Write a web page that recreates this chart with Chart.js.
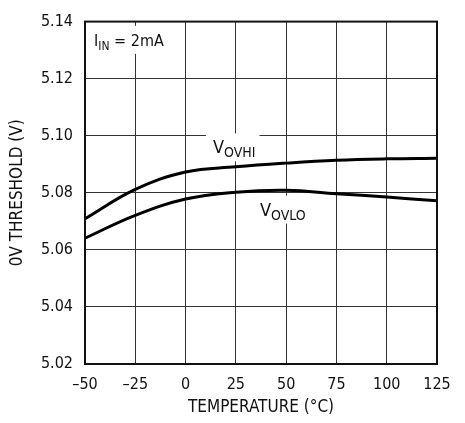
<!DOCTYPE html>
<html>
<head>
<meta charset="utf-8">
<script src="https://cdn.jsdelivr.net/npm/chart.js@4.4.1/dist/chart.umd.min.js"></script>
<style>
  html, body { margin: 0; padding: 0; background: #fff; }
  #wrap { width: 465px; height: 423px; }
</style>
</head>
<body>
<div id="wrap"><canvas id="Chart-threshold" width="465" height="423"></canvas></div>
<script>
var temperatures = [-50, -25, 0, 25, 50, 75, 100, 125];
var vOvHi = [5.0709, 5.0812, 5.0873, 5.0891, 5.0904, 5.0914, 5.0919, 5.0921];
var vOvLo = [5.0641, 5.0721, 5.0778, 5.0802, 5.0809, 5.0797, 5.0785, 5.0772];
var xTickLabels = ['\u201350', '\u201325', '0', '25', '50', '75', '100', '125'];
var yTickLabels = ['5.02', '5.04', '5.06', '5.08', '5.10', '5.12', '5.14'];

var FONT = "'DejaVu Sans Condensed', 'Liberation Sans Narrow', sans-serif";

// text labels drawn on the plot: main text + subscript + rest
var notes = [
  { x: -45.5, y: 5.1315, main: 'I', sub: 'IN', rest: ' = 2mA', size: 16 },
  { x: 13.6, y: 5.0938, main: 'V', sub: 'OVHI', rest: '', size: 18 },
  { x: 37.0, y: 5.0720, main: 'V', sub: 'OVLO', rest: '', size: 18 }
];

function toPoints(xs, ys) {
  return xs.map(function (x, i) { return { x: x, y: ys[i] }; });
}

var notesPlugin = {
  id: 'notes',
  beforeDatasetsDraw: function (chart) {
    var ctx = chart.ctx;
    var xs = chart.scales.x, ys = chart.scales.y;
    ctx.save();
    notes.forEach(function (n) {
      var px = xs.getPixelForValue(n.x);
      var py = ys.getPixelForValue(n.y);
      var subSize = Math.round(n.size * 0.78);
      ctx.font = n.size + 'px ' + FONT;
      var w1 = ctx.measureText(n.main).width;
      var w3 = ctx.measureText(n.rest).width;
      ctx.font = subSize + 'px ' + FONT;
      var w2 = ctx.measureText(n.sub).width;
      var total = w1 + w2 + w3;
      ctx.fillStyle = '#fff';
      ctx.fillRect(px - 7, py - 20, total + 11, 28);
      ctx.fillStyle = '#111';
      ctx.textBaseline = 'alphabetic';
      ctx.textAlign = 'left';
      ctx.font = n.size + 'px ' + FONT;
      ctx.fillText(n.main, px, py);
      ctx.font = subSize + 'px ' + FONT;
      ctx.fillText(n.sub, px + w1, py + 4);
      ctx.font = n.size + 'px ' + FONT;
      ctx.fillText(n.rest, px + w1 + w2, py);
    });
    ctx.restore();
  },
  afterDraw: function (chart) {
    var a = chart.chartArea;
    var ctx = chart.ctx;
    ctx.save();
    ctx.strokeStyle = '#111';
    ctx.lineWidth = 2;
    ctx.strokeRect(a.left, a.top, a.right - a.left, a.bottom - a.top);
    ctx.restore();
  }
};

var ctx = document.getElementById('Chart-threshold').getContext('2d');
var thresholdChart = new Chart(ctx, {
  type: 'line',
  data: {
    datasets: [{
      label: 'VOVHI',
      data: toPoints(temperatures, vOvHi),
      borderColor: '#000',
      borderWidth: 3,
      pointRadius: 0,
      tension: 0.4,
      fill: false
    }, {
      label: 'VOVLO',
      data: toPoints(temperatures, vOvLo),
      borderColor: '#000',
      borderWidth: 3,
      pointRadius: 0,
      tension: 0.4,
      fill: false
    }]
  },
  options: {
    responsive: false,
    animation: false,
    layout: { padding: { top: 13, right: 28, left: 0, bottom: 0 } },
    plugins: { legend: { display: false }, tooltip: { enabled: false } },
    scales: {
      x: {
        type: 'linear',
        position: 'bottom',
        min: -50,
        max: 125,
        afterFit: function (scale) { scale.height = 59; },
        afterBuildTicks: function (scale) {
          scale.ticks = temperatures.map(function (t) { return { value: t }; });
        },
        ticks: {
          color: '#111',
          padding: 11,
          maxRotation: 0,
          font: { family: FONT, size: 16 },
          callback: function (value, index) { return xTickLabels[index]; }
        },
        grid: { color: '#333', lineWidth: 1, drawTicks: false },
        border: { display: false },
        title: {
          display: true,
          text: 'TEMPERATURE (\u00B0C)',
          color: '#111',
          font: { family: FONT, size: 17 },
          padding: { top: 0, bottom: 5 }
        }
      },
      y: {
        min: 5.02,
        max: 5.14,
        afterFit: function (scale) { scale.width = 85; },
        afterBuildTicks: function (scale) {
          scale.ticks = yTickLabels.map(function (t) { return { value: parseFloat(t) }; });
        },
        ticks: {
          color: '#111',
          padding: 12,
          font: { family: FONT, size: 16 },
          callback: function (value, index) { return yTickLabels[index]; }
        },
        grid: { color: '#333', lineWidth: 1, drawTicks: false },
        border: { display: false },
        title: {
          display: true,
          text: '0V THRESHOLD (V)',
          color: '#111',
          font: { family: FONT, size: 17 },
          padding: { top: 7, bottom: 0 }
        }
      }
    }
  },
  plugins: [notesPlugin]
});
</script>
</body>
</html>
